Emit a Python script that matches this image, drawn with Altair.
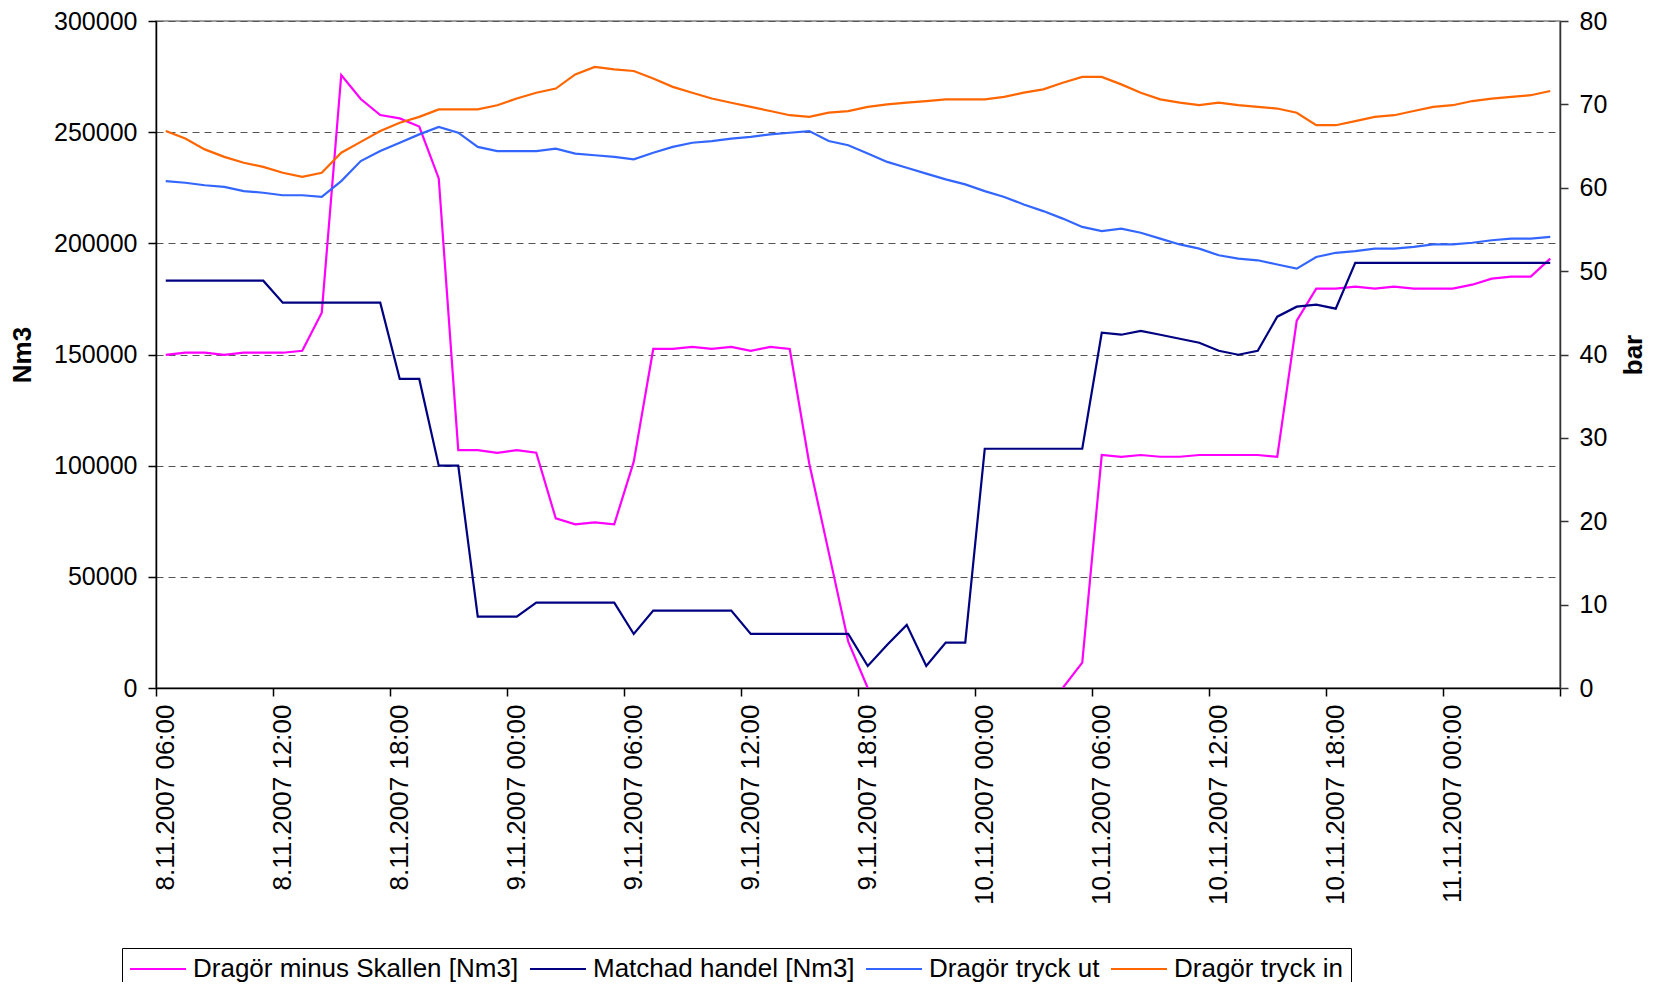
import json
import pandas as pd
import altair as alt

# Hourly categories of the x axis
times = pd.date_range("2007-11-08 06:00", periods=72, freq="h")
time_labels = [f"{t.day}.{t.month}.{t.year} {t:%H:%M}" for t in times]
tick_labels = time_labels[::6]

series_names = ["Dragör minus Skallen [Nm3]", "Matchad handel [Nm3]",
                "Dragör tryck ut", "Dragör tryck in"]
colors = ["#FF00FF", "#000080", "#3366FF", "#FF6600"]

# Nm3 (left axis); None = below the axis minimum (not visible)
minus_skallen = [
    149800, 150800, 150800, 149800, 150800, 150800, 150800, 151700, 168800, 275700,
    264900, 257700, 256200, 252500, 229200, 107000, 107000, 105800, 107000, 105800,
    76300, 73600, 74500, 73600, 101800, 152500, 152500, 153400, 152500, 153400,
    151600, 153400, 152500, 101000, 61000, 20800, 0, None, None, None,
    None, None, None, None, None, None, 0, 11400, 104800, 104000,
    104800, 104000, 104000, 104800, 104800, 104800, 104800, 104000, 165200, 179600,
    179600, 180500, 179600, 180500, 179600, 179600, 179600, 181400, 184100, 185000,
    185000, 193100,
]
matchad = [
    183200, 183200, 183200, 183200, 183200, 183200, 173300, 173300, 173300, 173300,
    173300, 173300, 139000, 139000, 100000, 100000, 32100, 32100, 32100, 38400,
    38400, 38400, 38400, 38400, 24300, 34800, 34800, 34800, 34800, 34800,
    24300, 24300, 24300, 24300, 24300, 24300, 9900, 19500, 28400, 9900,
    20400, 20400, 107600, 107600, 107600, 107600, 107600, 107600, 159800, 158900,
    160600, 158900, 157100, 155300, 151700, 149900, 151700, 167000, 171500, 172400,
    170600, 191200, 191200, 191200, 191200, 191200, 191200, 191200, 191200, 191200,
    191200, 191200,
]
# bar (right axis)
tryck_ut = [
    60.8, 60.6, 60.3, 60.1, 59.6, 59.4, 59.1, 59.1, 58.9, 60.8,
    63.2, 64.4, 65.4, 66.4, 67.3, 66.6, 64.9, 64.4, 64.4, 64.4,
    64.7, 64.1, 63.9, 63.7, 63.4, 64.2, 64.9, 65.4, 65.6, 65.9,
    66.1, 66.4, 66.6, 66.8, 65.6, 65.1, 64.1, 63.1, 62.4, 61.7,
    61.0, 60.4, 59.6, 58.9, 58.0, 57.2, 56.3, 55.3, 54.8, 55.1,
    54.6, 53.9, 53.2, 52.7, 51.9, 51.5, 51.3, 50.8, 50.3, 51.7,
    52.2, 52.4, 52.7, 52.7, 52.9, 53.2, 53.2, 53.4, 53.7, 53.9,
    53.9, 54.1,
]
tryck_in = [
    66.8, 65.9, 64.6, 63.7, 63.0, 62.5, 61.8, 61.3, 61.8, 64.2,
    65.5, 66.8, 67.8, 68.5, 69.4, 69.4, 69.4, 69.9, 70.7, 71.4,
    71.9, 73.6, 74.5, 74.2, 74.0, 73.1, 72.1, 71.4, 70.7, 70.2,
    69.7, 69.2, 68.7, 68.5, 69.0, 69.2, 69.7, 70.0, 70.2, 70.4,
    70.6, 70.6, 70.6, 70.9, 71.4, 71.8, 72.6, 73.3, 73.3, 72.4,
    71.4, 70.6, 70.2, 69.9, 70.2, 69.9, 69.7, 69.5, 69.0, 67.5,
    67.5, 68.0, 68.5, 68.7, 69.2, 69.7, 69.9, 70.4, 70.7, 70.9,
    71.1, 71.6,
]

rows = []
for name, vals in zip(series_names, [minus_skallen, matchad, tryck_ut, tryck_in]):
    seg, gap = 0, False
    for i, v in enumerate(vals):
        if v is None:
            gap = True
            continue
        if gap:
            seg += 1
            gap = False
        rows.append({"i": i, "time": time_labels[i], "series": name,
                     "seg": f"{name}-{seg}", "value": v,
                     "unit": "Nm3" if "Nm3" in name else "bar"})
df = pd.DataFrame(rows)

n = len(times)
W, H = 1404, 667
half = W / n / 2
FONT = "Liberation Sans, Arial, sans-serif"
FS = 26
FSY = 25

x_enc = alt.X(
    "i:Q",
    scale=alt.Scale(domain=[-0.5, n - 0.5], nice=False, zero=False),
    axis=alt.Axis(
        values=[k - 0.5 for k in range(0, n + 1, 6)],
        labelOffset=half,
        labelExpr=f"{json.dumps(tick_labels)}[round((datum.value + 0.5) / 6)] || ''",
        labelAngle=270, labelAlign="right", labelBaseline="middle",
        labelPadding=8, tickSize=8, labelFlush=False, labelOverlap=False,
        labelLimit=1000,
        grid=False, title=None, domainColor="black", domainWidth=1.5,
        tickColor="black", tickWidth=1.5, labelFontSize=FS, labelColor="black",
    ),
)

y_left = alt.Y(
    "value:Q",
    scale=alt.Scale(domain=[0, 300000], nice=False),
    axis=alt.Axis(
        orient="left", values=list(range(0, 300001, 50000)), format="d",
        title="Nm3", titleFontSize=FS, titleFontWeight="bold", titleAngle=270,
        titleX=-134, titleY=H / 2, titleAlign="center", titleBaseline="middle",
        titleColor="black",
        labelFontSize=FSY, labelPadding=11, tickSize=8, labelColor="black",
        grid=True, gridDash=[7, 5], gridColor="#555555", gridWidth=1,
        domainColor="black", domainWidth=1.5, tickColor="black", tickWidth=1.5,
    ),
)

y_right = alt.Y(
    "value:Q",
    scale=alt.Scale(domain=[0, 80], nice=False),
    axis=alt.Axis(
        orient="right", values=list(range(0, 81, 10)),
        title="bar", titleFontSize=FS, titleFontWeight="bold", titleAngle=270,
        titleX=73, titleY=H / 2, titleAlign="center", titleBaseline="middle",
        titleColor="black",
        labelFontSize=FSY, labelPadding=11, tickSize=8, labelColor="black",
        grid=False, domainColor="#333333", domainWidth=1.5,
        tickColor="#333333", tickWidth=1.5,
    ),
)

color = alt.Color(
    "series:N",
    scale=alt.Scale(domain=series_names, range=colors),
    legend=alt.Legend(
        orient="none", legendX=-34, legendY=927, direction="horizontal",
        columns=4, title=None, symbolType="stroke", symbolSize=3136,
        symbolStrokeWidth=2, clipHeight=28, labelFontSize=FS, labelColor="black",
        labelLimit=2000, labelOffset=6, columnPadding=10, padding=7,
        strokeColor="black", fillColor="white",
    ),
)

left = alt.Chart(df).transform_filter(alt.datum.unit == "Nm3").mark_line(
    strokeWidth=2.2, clip=True
).encode(x=x_enc, y=y_left, color=color, detail="seg:N")

right = alt.Chart(df).transform_filter(alt.datum.unit == "bar").mark_line(
    strokeWidth=2.2, clip=True
).encode(x=x_enc, y=y_right, color=color, detail="seg:N")

chart = (
    alt.layer(left, right)
    .resolve_scale(y="independent")
    .properties(
        width=W, height=H,
        autosize=alt.AutoSizeParams(type="none"),
        padding={"left": 148, "top": 13, "right": 88, "bottom": 294},
        background="white",
    )
    .configure(font=FONT)
    .configure_view(stroke="#808080", strokeWidth=1.5)
)

chart.save("out.html", embed_options={"renderer": "svg", "actions": False})
